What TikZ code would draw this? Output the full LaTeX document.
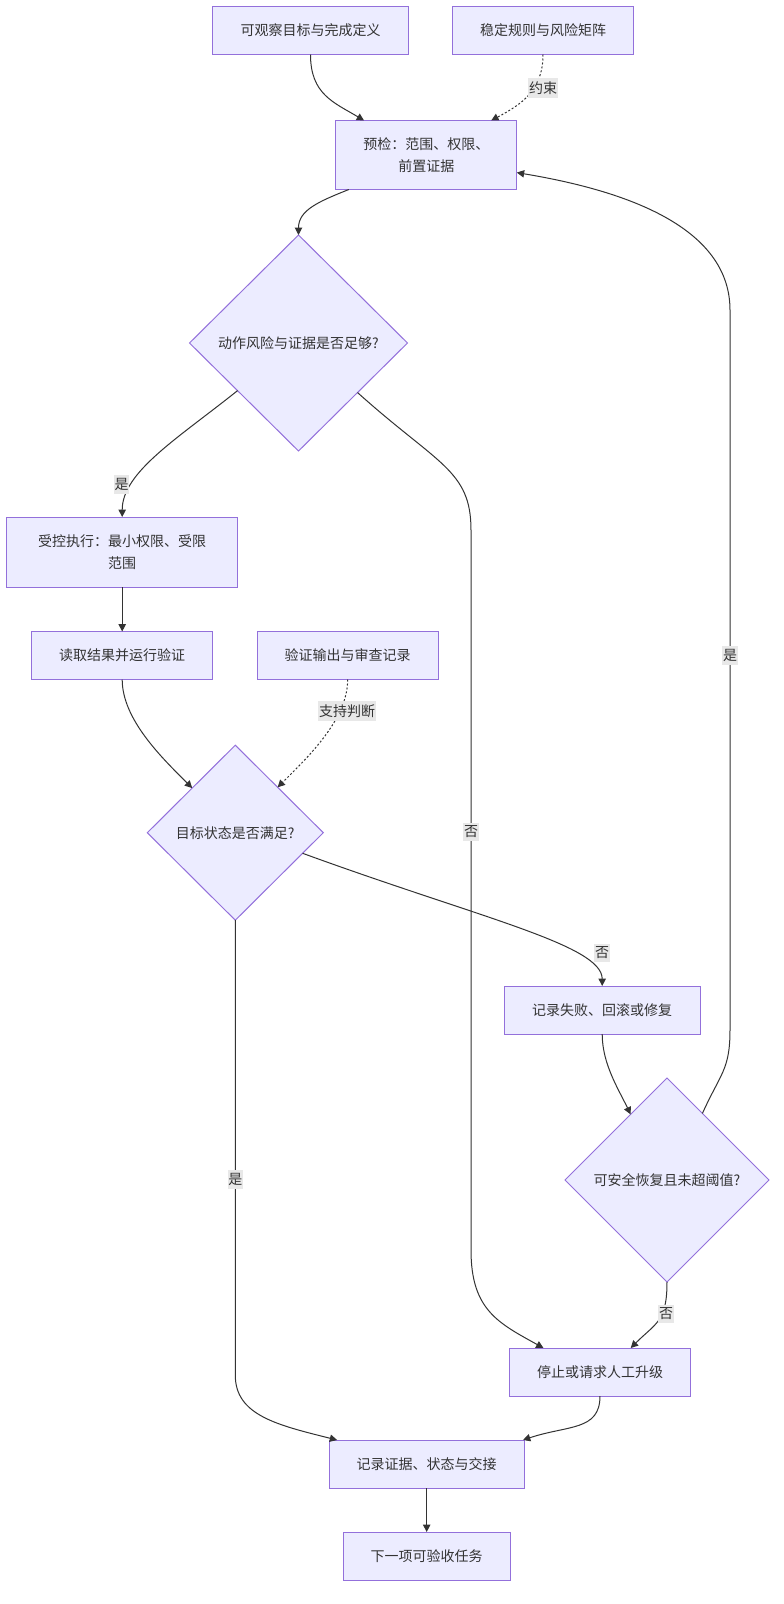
\documentclass[tikz,border=0pt]{standalone}
\usepackage{fontspec}
\setmainfont{Noto Sans CJK SC}
\usetikzlibrary{shapes.geometric,arrows.meta}
\definecolor{nodefill}{HTML}{ECECFF}
\definecolor{nodeline}{HTML}{9370DB}
\definecolor{edgeline}{HTML}{333333}
\definecolor{lblfill}{HTML}{E8E8E8}
\tikzset{
  box/.style={draw=nodeline, fill=nodefill, line width=0.75pt, text=edgeline, inner sep=0pt, outer sep=0pt, align=center, font=\fontsize{10.5pt}{16pt}\selectfont},
  decision/.style={box, diamond},
  flow/.style={draw=edgeline, line width=0.75pt, -{Triangle[length=5.5pt,width=5.5pt]}},
  hint/.style={flow, dash pattern=on 1.5pt off 1.5pt},
  lbl/.style={fill=lblfill, text=edgeline, inner xsep=0.5pt, inner ysep=2.5pt, font=\fontsize{10.5pt}{12pt}\selectfont}
}
\begin{document}
\begin{tikzpicture}[x=0.75pt,y=0.75pt,yscale=-1,xscale=1]
\fill[white] (0,0) rectangle (784,1604);
\useasboundingbox (0,0) rectangle (784,1604);
\node[box, minimum width=147pt, minimum height=36pt] (goal) at (310.5,30.5) {可观察目标与完成定义};
\node[box, minimum width=135.75pt, minimum height=36pt] (rules) at (543,30.5) {稳定规则与风险矩阵};
\node[box, minimum width=135.75pt, minimum height=51.75pt] (precheck) at (426.3,155) {预检：范围、权限、\\前置证据};
\node[decision, minimum width=163.5pt, minimum height=162pt] (riskok) at (298.5,343) {动作风险与证据是否足够?};
\node[box, minimum width=173.25pt, minimum height=52.5pt] (exec) at (122.2,552) {受控执行：最小权限、受限\\范围};
\node[box, minimum width=135.75pt, minimum height=36pt] (verify) at (122.2,655.5) {读取结果并运行验证};
\node[box, minimum width=135.75pt, minimum height=36pt] (evidence) at (347.7,655.5) {验证输出与审查记录};
\node[decision, minimum width=132pt, minimum height=131.25pt] (goalmet) at (235.3,832.7) {目标状态是否满足?};
\node[box, minimum width=147pt, minimum height=36pt] (rollback) at (602.2,1010) {记录失败、回滚或修复};
\node[decision, minimum width=153pt, minimum height=153pt] (recover) at (667,1180) {可安全恢复且未超阈值?};
\node[box, minimum width=135.75pt, minimum height=36pt] (stop) at (600,1372) {停止或请求人工升级};
\node[box, minimum width=146.25pt, minimum height=36pt] (record) at (426.7,1464) {记录证据、状态与交接};
\node[box, minimum width=125.25pt, minimum height=36pt] (next) at (426.7,1556) {下一项可验收任务};
\draw[flow] (goal.south) .. controls +(0,40) and +(-30,-18) .. (precheck.151);
\draw[hint] (rules.south) .. controls +(0,36) and +(30,-16) .. (precheck.28);
\draw[flow] (precheck.204) .. controls +(-30,12) and +(0,-25) .. (riskok.north);
\draw[flow] (riskok.218) .. controls +(-60,48) and +(0,-45) .. (exec.north);
\draw[flow] (riskok.320) .. controls +(80,72) and +(0,-60) .. (471,530) -- (471,1250) .. controls +(0,60) and +(-45,-25) .. (stop.157);
\draw[flow] (exec) -- (verify);
\draw[flow] (verify.south) .. controls +(0,40) and +(-30,-30) .. (goalmet.134);
\draw[hint] (evidence.south) .. controls +(0,40) and +(30,-30) .. (goalmet.47);
\draw[flow] (goalmet.343) .. controls +(178,65) and +(0,-41) .. (rollback.north);
\draw[flow] (goalmet.south) -- ++(0,455) .. controls +(0,40) and +(-60,-15) .. (record.165.5);
\draw[flow] (rollback.south) .. controls +(0,30) and +(-12,-25) .. (recover.119);
\draw[flow] (recover.62) .. controls +(18,-40) and +(0,40) .. (730,1030) -- (730,310) .. controls +(0,-90) and +(90,15) .. (precheck.349);
\draw[flow] (recover.south) .. controls +(0,40) and +(25,-25) .. (stop.38);
\draw[flow] (stop.south) .. controls +(0,35) and +(45,-15) .. (record.14.5);
\draw[flow] (record) -- (next);
\node[lbl] (lconstraint) at (543,88) {约束};
\node[lbl] (lyes1) at (121.7,484) {是};
\node[lbl] (lno1) at (471,832) {否};
\node[lbl] (lsupport) at (347,711) {支持判断};
\node[lbl] (lno2) at (602,953) {否};
\node[lbl] (lyes2) at (235.4,1179) {是};
\node[lbl] (lyes3) at (730,655) {是};
\node[lbl] (lno3) at (666,1314) {否};
\end{tikzpicture}
\end{document}
